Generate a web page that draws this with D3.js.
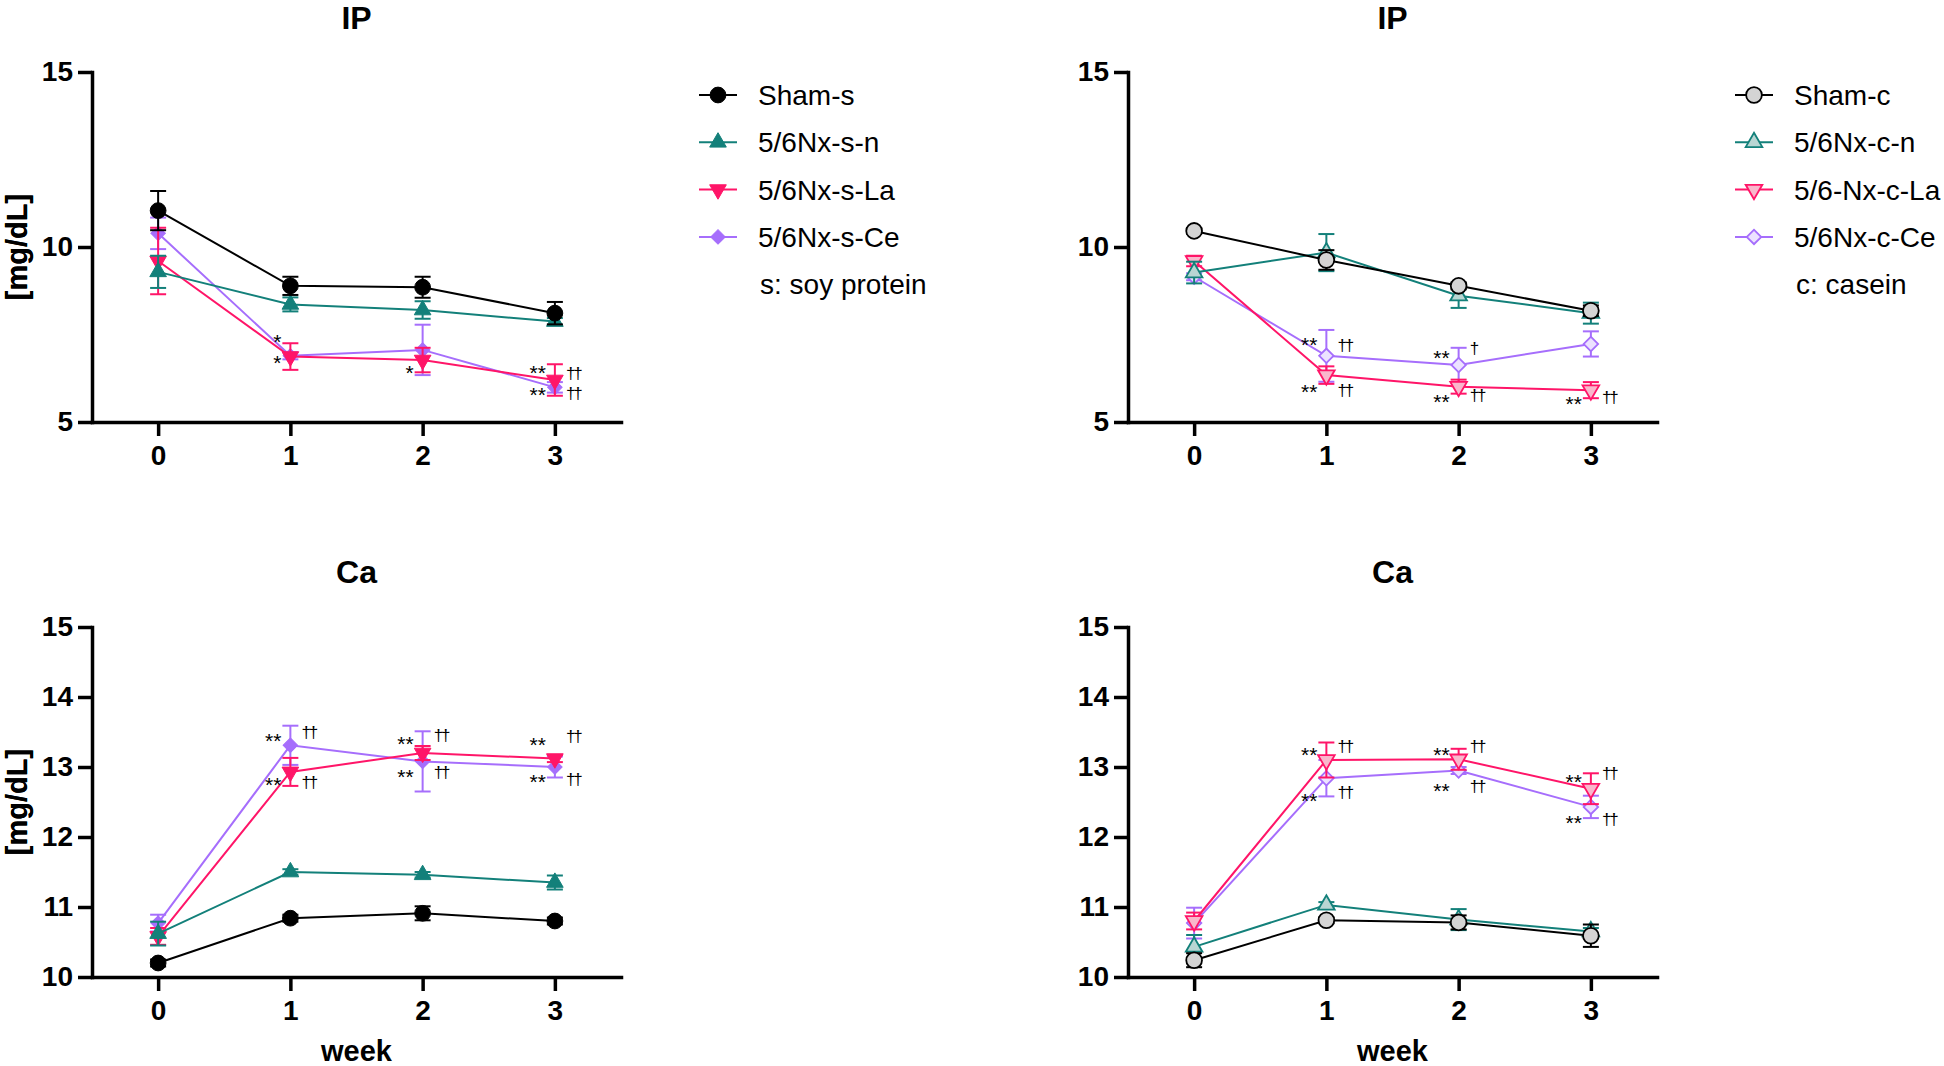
<!DOCTYPE html>
<html><head><meta charset="utf-8">
<script src="https://cdn.jsdelivr.net/npm/d3@7"></script>
<style>
body{margin:0;background:#fff}
svg{display:block}
text{font-family:"Liberation Sans",Arial,sans-serif}
</style>
</head><body>
<svg id="c" width="1944" height="1066"></svg>
<script>
// ---------- data ----------
const weeks = [0, 1, 2, 3];
const xTicks = [0, 1, 2, 3];
const ipTicks = [5, 10, 15];
const caTicks = [10, 11, 12, 13, 14, 15];

const soyNames = ["Sham-s", "5/6Nx-s-n", "5/6Nx-s-La", "5/6Nx-s-Ce"];
const soyNote = "s: soy protein";
const caseinNames = ["Sham-c", "5/6Nx-c-n", "5/6-Nx-c-La", "5/6Nx-c-Ce"];
const caseinNote = "c: casein";

// IP, soy protein (mean, SE)
const ipSoyMean = [[11.04, 8.89, 8.85, 8.11], [9.29, 8.36, 8.20, 7.87], [9.60, 6.87, 6.77, 6.20], [10.39, 6.89, 7.06, 5.99]];
const ipSoyErr  = [[0.56, 0.26, 0.30, 0.32], [0.46, 0.20, 0.25, 0.10], [0.95, 0.38, 0.35, 0.45], [0.45, 0.10, 0.72, 0.15]];
// IP, casein
const ipCasMean = [[10.46, 9.63, 8.89, 8.18], [9.27, 9.84, 8.61, 8.11], [9.60, 6.34, 6.01, 5.91], [9.15, 6.89, 6.63, 7.23]];
const ipCasErr  = [[0.08, 0.28, 0.10, 0.15], [0.31, 0.53, 0.35, 0.30], [0.15, 0.25, 0.20, 0.23], [0.10, 0.74, 0.49, 0.36]];
// Ca, soy protein
const caSoyMean = [[10.20, 10.84, 10.91, 10.80], [10.62, 11.50, 11.46, 11.35], [10.58, 12.93, 13.20, 13.12], [10.77, 13.31, 13.08, 13.00]];
const caSoyErr  = [[0.05, 0.05, 0.10, 0.05], [0.17, 0.04, 0.04, 0.10], [0.12, 0.20, 0.10, 0.05], [0.12, 0.28, 0.43, 0.15]];
// Ca, casein
const caCasMean = [[10.24, 10.81, 10.78, 10.59], [10.43, 11.03, 10.82, 10.65], [10.80, 13.10, 13.11, 12.69], [10.77, 12.84, 12.95, 12.43]];
const caCasErr  = [[0.10, 0.04, 0.10, 0.16], [0.17, 0.04, 0.15, 0.05], [0.12, 0.25, 0.15, 0.22], [0.22, 0.26, 0.05, 0.16]];

// significance marks: week, value (text baseline), text, side
const annIpSoy = [
  {week: 1, v: 7.09, text: "*", side: "L"},
  {week: 1, v: 6.49, text: "*", side: "L"},
  {week: 2, v: 6.20, text: "*", side: "L"},
  {week: 3, v: 6.20, text: "**", side: "L"}, {week: 3, v: 6.23, text: "††", side: "R"},
  {week: 3, v: 5.57, text: "**", side: "L"}, {week: 3, v: 5.66, text: "††", side: "R"}
];
const annIpCas = [
  {week: 1, v: 7.00, text: "**", side: "L"}, {week: 1, v: 7.03, text: "††", side: "R"},
  {week: 1, v: 5.66, text: "**", side: "L"}, {week: 1, v: 5.74, text: "††", side: "R"},
  {week: 2, v: 6.63, text: "**", side: "L"}, {week: 2, v: 6.94, text: "†", side: "R"},
  {week: 2, v: 5.37, text: "**", side: "L"}, {week: 2, v: 5.60, text: "††", side: "R"},
  {week: 3, v: 5.31, text: "**", side: "L"}, {week: 3, v: 5.54, text: "††", side: "R"}
];
const annCaSoy = [
  {week: 1, v: 13.27, text: "**", side: "L"}, {week: 1, v: 13.41, text: "††", side: "R"},
  {week: 1, v: 12.64, text: "**", side: "L"}, {week: 1, v: 12.70, text: "††", side: "R"},
  {week: 2, v: 13.23, text: "**", side: "L"}, {week: 2, v: 13.37, text: "††", side: "R"},
  {week: 2, v: 12.76, text: "**", side: "L"}, {week: 2, v: 12.84, text: "††", side: "R"},
  {week: 3, v: 13.21, text: "**", side: "L"}, {week: 3, v: 13.36, text: "††", side: "R"},
  {week: 3, v: 12.69, text: "**", side: "L"}, {week: 3, v: 12.74, text: "††", side: "R"}
];
const annCaCas = [
  {week: 1, v: 13.07, text: "**", side: "L"}, {week: 1, v: 13.21, text: "††", side: "R"},
  {week: 1, v: 12.41, text: "**", side: "L"}, {week: 1, v: 12.56, text: "††", side: "R"},
  {week: 2, v: 13.07, text: "**", side: "L"}, {week: 2, v: 13.21, text: "††", side: "R"},
  {week: 2, v: 12.56, text: "**", side: "L"}, {week: 2, v: 12.64, text: "††", side: "R"},
  {week: 3, v: 12.69, text: "**", side: "L"}, {week: 3, v: 12.83, text: "††", side: "R"},
  {week: 3, v: 12.10, text: "**", side: "L"}, {week: 3, v: 12.17, text: "††", side: "R"}
];

// ---------- styling ----------
const colors = ["#000000", "#13807a", "#ff1568", "#a66efc"];
const openFills = ["#d4d4d4", "#b9d6d3", "#f9b7cc", "#ece2ff"];
const symTypes = [d3.symbolCircle, d3.symbolTriangle, d3.symbolTriangle, d3.symbolSquare];
const symRot = [0, 0, 180, 45];
const symSize = [195, 120, 120, 105];
const drawOrder = [3, 2, 1, 0];

const svg = d3.select("#c");

function panel(cfg) {
  const x = d3.scaleLinear().domain([-0.5, 3.5]).range([cfg.left, cfg.right]);
  const y = d3.scaleLinear().domain(cfg.domain).range([cfg.bottom, cfg.top]);
  const g = svg.append("g");

  // axes
  const ax = g.append("g").attr("transform", `translate(0,${cfg.bottom})`)
    .call(d3.axisBottom(x).tickValues(xTicks).tickFormat(d3.format("d")).tickSize(14).tickSizeOuter(0).tickPadding(9));
  const ay = g.append("g").attr("transform", `translate(${cfg.left},0)`)
    .call(d3.axisLeft(y).tickValues(cfg.ticks).tickFormat(d3.format("d")).tickSize(14).tickSizeOuter(0).tickPadding(5));
  [ax, ay].forEach(a => {
    a.select(".domain").attr("stroke", "#000").attr("stroke-width", 3.5).attr("stroke-linecap", "square");
    a.selectAll(".tick line").attr("stroke", "#000").attr("stroke-width", 3.5);
    a.selectAll(".tick text").attr("fill", "#000").style("font-size", "28px").style("font-weight", "bold")
      .style("font-family", "'Liberation Sans', Arial, sans-serif");
  });

  // title
  g.append("text").attr("x", (cfg.left + cfg.right) / 2).attr("y", cfg.titleY)
    .attr("text-anchor", "middle").style("font-size", "32px").style("font-weight", "bold").text(cfg.title);
  // y label
  const cy = (cfg.top + cfg.bottom) / 2;
  g.append("text").attr("transform", `translate(27,${cy}) rotate(-90)`)
    .attr("text-anchor", "middle").style("font-size", "29px").style("font-weight", "bold").text("[mg/dL]");
  if (cfg.xLabel) {
    g.append("text").attr("x", (cfg.left + cfg.right) / 2).attr("y", 1061)
      .attr("text-anchor", "middle").style("font-size", "29px").style("font-weight", "bold").text("week");
  }

  const line = d3.line().x((d, i) => x(weeks[i])).y(d => y(d));

  drawOrder.forEach(s => {
    const col = colors[s];
    const sg = g.append("g");
    sg.append("path").datum(cfg.means[s]).attr("d", line)
      .attr("fill", "none").attr("stroke", col).attr("stroke-width", 2);
    const eb = sg.selectAll(".eb").data(weeks).enter().append("g");
    eb.append("line").attr("x1", w => x(w)).attr("x2", w => x(w))
      .attr("y1", (w, i) => y(cfg.means[s][i] - cfg.errs[s][i]))
      .attr("y2", (w, i) => y(cfg.means[s][i] + cfg.errs[s][i]))
      .attr("stroke", col).attr("stroke-width", 2);
    [-1, 1].forEach(sign => {
      eb.append("line").attr("x1", w => x(w) - 8).attr("x2", w => x(w) + 8)
        .attr("y1", (w, i) => y(cfg.means[s][i] + sign * cfg.errs[s][i]))
        .attr("y2", (w, i) => y(cfg.means[s][i] + sign * cfg.errs[s][i]))
        .attr("stroke", col).attr("stroke-width", 2);
    });
    sg.selectAll(".pt").data(cfg.means[s]).enter().append("path")
      .attr("d", d3.symbol().type(symTypes[s]).size(symSize[s]))
      .attr("transform", (d, i) => `translate(${x(weeks[i])},${y(d)}) rotate(${symRot[s]})`)
      .attr("fill", cfg.open ? openFills[s] : col)
      .attr("stroke", col).attr("stroke-width", cfg.open ? 1.8 : 1);
  });

  // annotations
  g.selectAll(".ann").data(cfg.annots).enter().append("text")
    .attr("x", d => d.side === "L" ? x(d.week) - 9 : x(d.week) + 11)
    .attr("y", d => y(d.v))
    .attr("text-anchor", d => d.side === "L" ? "end" : "start")
    .style("font-size", d => d.text.includes("*") ? "21px" : "17px")
    .style("letter-spacing", d => d.text.includes("*") ? "0px" : "-2px")
    .attr("fill", "#000")
    .text(d => d.text);

  // legend
  if (cfg.legend) {
    const lx = cfg.right + 78;
    const rows = [95, 142.3, 189.6, 236.9];
    cfg.legend.forEach((name, s) => {
      const col = colors[s];
      const ly = rows[s];
      g.append("line").attr("x1", lx).attr("x2", lx + 38).attr("y1", ly).attr("y2", ly)
        .attr("stroke", col).attr("stroke-width", 2);
      g.append("path").attr("d", d3.symbol().type(symTypes[s]).size(symSize[s]))
        .attr("transform", `translate(${lx + 19},${ly}) rotate(${symRot[s]})`)
        .attr("fill", cfg.open ? openFills[s] : col)
        .attr("stroke", col).attr("stroke-width", cfg.open ? 1.8 : 1);
      g.append("text").attr("x", lx + 59).attr("y", ly + 10)
        .style("font-size", "28px").attr("fill", "#000").text(name);
    });
    g.append("text").attr("x", lx + 61).attr("y", 284.2 + 10)
      .style("font-size", "28px").attr("fill", "#000").text(cfg.note);
  }
}

panel({left: 92, right: 621, top: 72, bottom: 422, domain: [5, 15], ticks: ipTicks, title: "IP", titleY: 29,
  means: ipSoyMean, errs: ipSoyErr, open: false, annots: annIpSoy, legend: soyNames, note: soyNote});
panel({left: 1128, right: 1657, top: 72, bottom: 422, domain: [5, 15], ticks: ipTicks, title: "IP", titleY: 29,
  means: ipCasMean, errs: ipCasErr, open: true, annots: annIpCas, legend: caseinNames, note: caseinNote});
panel({left: 92, right: 621, top: 627, bottom: 977, domain: [10, 15], ticks: caTicks, title: "Ca", titleY: 583,
  means: caSoyMean, errs: caSoyErr, open: false, annots: annCaSoy, xLabel: true});
panel({left: 1128, right: 1657, top: 627, bottom: 977, domain: [10, 15], ticks: caTicks, title: "Ca", titleY: 583,
  means: caCasMean, errs: caCasErr, open: true, annots: annCaCas, xLabel: true});
</script>
</body></html>
